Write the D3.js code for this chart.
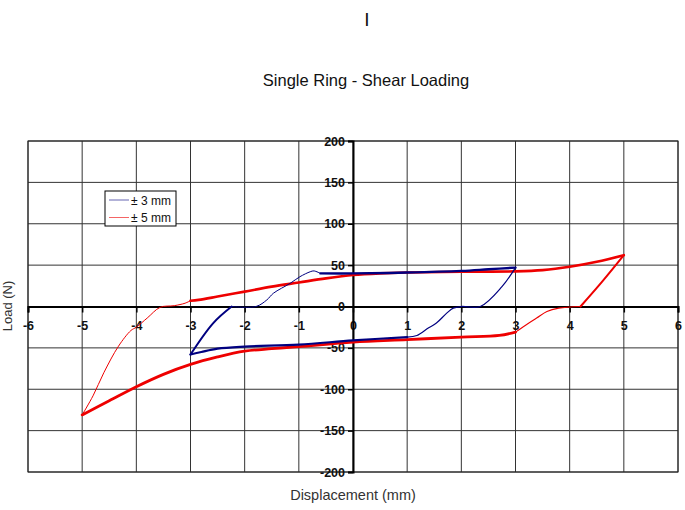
<!DOCTYPE html>
<html>
<head>
<meta charset="utf-8">
<script src="https://cdn.jsdelivr.net/npm/d3@7"></script>
<style>
  body { margin: 0; background: #fff; }
  svg { font-family: "Liberation Sans", Arial, sans-serif; }
</style>
</head>
<body>
<div class="graph"></div>
<script>
// Tick values
const xTicks = [-6, -5, -4, -3, -2, -1, 0, 1, 2, 3, 4, 5, 6];
const yTicks = [-200, -150, -100, -50, 0, 50, 100, 150, 200];
const seriesNames = ["\u00b1 3 mm", "\u00b1 5 mm"];

// ± 5 mm loop, split into branches [displacement, load]
const redRise = [[-5, -131], [-4.8, -108], [-4.6, -80], [-4.33, -48], [-4.1, -29], [-4.0, -25],
  [-3.8, -14], [-3.56, -1], [-3.3, 1], [-3.1, 4], [-3.0, 7]];
const redUpper = [[-3.0, 7], [-2.85, 8], [-2.5, 12], [-2, 18], [-1.5, 24], [-1, 29], [-0.5, 34],
  [0, 38], [0.5, 40], [1, 41], [2, 42], [3, 42.5], [3.5, 44], [4, 48], [4.5, 54], [5, 62]];
const redDrop = [[5, 62], [4.6, 30], [4.2, 0]];
const redTail = [[4.2, 0], [3.8, -2], [3.58, -6], [3.39, -14], [3.2, -22], [3.02, -30], [3.0, -31]];
const redLower = [[3.0, -31], [2.7, -35], [2, -37], [1, -40], [0, -43], [-1, -48.5], [-1.5, -51],
  [-2, -54], [-2.5, -61], [-3, -70], [-3.5, -82], [-4, -97], [-4.5, -114], [-5, -131]];

// ± 3 mm loop
const blueRise = [[-3, -58], [-2.58, -20], [-2.24, 0]];
const blueClimb = [[-2.24, 0], [-1.79, 0], [-1.59, 8], [-1.47, 16], [-1.16, 28], [-0.98, 36],
  [-0.79, 42], [-0.72, 43], [-0.6, 40]];
const blueUpper = [[-0.6, 40], [0, 40], [1, 41], [2, 43], [2.5, 45], [3, 47]];
const blueDrop = [[3, 47], [2.75, 24], [2.35, 0], [2.0, 0], [1.85, -2], [1.73, -8], [1.54, -20],
  [1.39, -26], [1.18, -35], [1.0, -37]];
const blueLower = [[1.0, -37], [0, -41], [-1, -46], [-2, -48.5], [-2.5, -51], [-2.8, -55], [-3, -58]];

const width = 685, height = 510;
const plot = { left: 28, right: 678, top: 141, bottom: 472 };
const blue = "#000080", red = "#ee0000";

const svg = d3.select(".graph").append("svg")
  .attr("width", width)
  .attr("height", height);

const x = d3.scaleLinear().domain([-6, 6]).range([plot.left, plot.right]);
const y = d3.scaleLinear().domain([-200, 200]).range([plot.bottom, plot.top]);

// Grid
svg.append("g").selectAll("line")
  .data(xTicks)
  .join("line")
  .attr("x1", d => x(d)).attr("x2", d => x(d))
  .attr("y1", plot.top).attr("y2", plot.bottom)
  .attr("stroke", "#333").attr("stroke-width", 1);
svg.append("g").selectAll("line")
  .data(yTicks)
  .join("line")
  .attr("x1", plot.left).attr("x2", plot.right)
  .attr("y1", d => y(d)).attr("y2", d => y(d))
  .attr("stroke", "#333").attr("stroke-width", 1);

svg.append("rect")
  .attr("x", plot.left).attr("y", plot.top)
  .attr("width", plot.right - plot.left).attr("height", plot.bottom - plot.top)
  .attr("fill", "none").attr("stroke", "#222");

// Axes crossing at zero (plain hyphen minus like the original)
let xAxis = svg.append("g")
  .attr("transform", "translate(0," + y(0) + ")")
  .call(d3.axisBottom(x).tickValues(xTicks).tickFormat(d => String(d))
    .tickSizeOuter(0).tickSize(6).tickPadding(9));
let yAxis = svg.append("g")
  .attr("transform", "translate(" + x(0) + ",0)")
  .call(d3.axisLeft(y).tickValues(yTicks).tickFormat(d => String(d))
    .tickSizeOuter(0).tickSize(5).tickPadding(3));

[xAxis, yAxis].forEach(a => {
  a.select(".domain").attr("stroke", "#000").attr("stroke-width", 2);
  a.selectAll(".tick line").attr("stroke", "#000").attr("stroke-width", 1.5);
  a.selectAll(".tick text")
    .attr("font-size", 12.5).attr("font-weight", "bold")
    .attr("fill", "#111").attr("font-family", "Liberation Sans, Arial, sans-serif");
});

// Curves
let line = d3.line().x(d => x(d[0])).y(d => y(d[1])).curve(d3.curveCatmullRom.alpha(0.5));
const branches = [
  { pts: redRise, color: red, w: 1 },
  { pts: redUpper, color: red, w: 2.6 },
  { pts: redDrop, color: red, w: 2 },
  { pts: redTail, color: red, w: 1.1 },
  { pts: redLower, color: red, w: 2.8 },
  { pts: blueRise, color: blue, w: 2 },
  { pts: blueClimb, color: blue, w: 1 },
  { pts: blueUpper, color: blue, w: 2.4 },
  { pts: blueDrop, color: blue, w: 1.2 },
  { pts: blueLower, color: blue, w: 2.2 }
];
svg.append("g").selectAll("path")
  .data(branches)
  .join("path")
  .attr("d", d => line(d.pts))
  .attr("fill", "none")
  .attr("stroke", d => d.color)
  .attr("stroke-width", d => d.w)
  .attr("stroke-linejoin", "round")
  .attr("stroke-linecap", "round");

// Legend
let legend = svg.append("g");
legend.append("rect")
  .attr("x", 105).attr("y", 191).attr("width", 71).attr("height", 35)
  .attr("fill", "#fff").attr("stroke", "#000");
legend.selectAll("g")
  .data(seriesNames)
  .join("g")
  .each(function(d, i) {
    let g = d3.select(this);
    let ly = 200 + i * 17.5;
    g.append("line")
      .attr("x1", 109).attr("x2", 129).attr("y1", ly).attr("y2", ly)
      .attr("stroke", i === 0 ? blue : red).attr("stroke-width", 1).attr("opacity", 0.6);
    g.append("text")
      .attr("x", 131).attr("y", ly + 4.5)
      .attr("font-size", 12).attr("fill", "#111")
      .text(d);
  });

// Titles
svg.append("text")
  .attr("x", 367).attr("y", 26).attr("text-anchor", "middle")
  .attr("font-size", 19).attr("fill", "#111").text("I");
svg.append("text")
  .attr("x", 366).attr("y", 86).attr("text-anchor", "middle")
  .attr("font-size", 16.5).attr("fill", "#111").text("Single Ring - Shear Loading");
svg.append("text")
  .attr("x", 353).attr("y", 500).attr("text-anchor", "middle")
  .attr("font-size", 14.5).attr("fill", "#333").text("Displacement (mm)");
svg.append("text")
  .attr("transform", "translate(12,306) rotate(-90)")
  .attr("text-anchor", "middle")
  .attr("font-size", 13).attr("fill", "#333").text("Load (N)");
</script>
</body>
</html>
